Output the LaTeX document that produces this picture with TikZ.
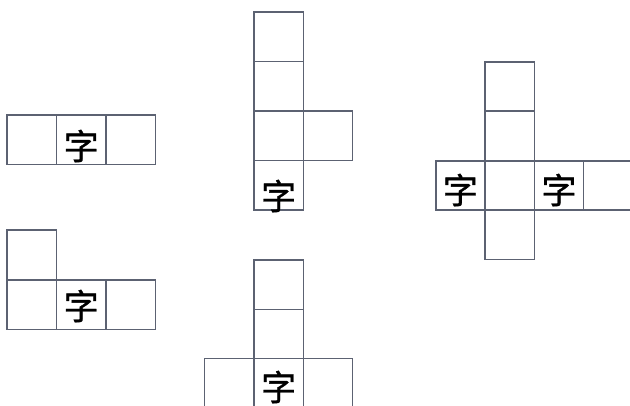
\documentclass[tikz,border=0pt]{standalone}
\usepackage{fontspec}
\newfontfamily\cjk[FakeBold=0.8]{Noto Sans CJK SC}
\definecolor{linegray}{RGB}{92,98,114}
\tikzset{
  cell/.style={draw=linegray, line width=1.1pt, minimum size=1.2325cm, inner sep=0pt, outer sep=0pt},
  zi/.style={font=\cjk\fontsize{25}{25}\selectfont, inner sep=0pt}
}
\begin{document}
\begin{tikzpicture}[x=0.025cm, y=-0.025cm]
    \useasboundingbox (0,0) rectangle (630,406);
    \clip (0,0) rectangle (630,406);

    % Row of three
    \foreach \x/\y [count=\i] in {31.7/139.7, 81.2/139.7, 130.7/139.7}
        \node[cell] (a\i) at (\x,\y) {};
    \node[zi] (za) at (81.2,146) {字};

    % L shape
    \foreach \x/\y [count=\i] in {31.7/254.7, 31.7/304.7, 81.2/304.7, 130.7/304.7}
        \node[cell] (b\i) at (\x,\y) {};
    \node[zi] (zb) at (81.2,306) {字};

    % Column with side cell
    \foreach \x/\y [count=\i] in {278.7/36.7, 278.7/86, 278.7/135.7, 278.7/185.2, 328/135.7}
        \node[cell] (c\i) at (\x,\y) {};
    \node[zi] (zc) at (278.7,196) {字};

    % Column on a row (cut at the bottom)
    \foreach \x/\y [count=\i] in {278.7/284.7, 278.7/334, 229.2/383.3, 278.7/383.3, 328/383.3}
        \node[cell] (d\i) at (\x,\y) {};
    \node[zi] (zd) at (278.7,387) {字};

    % Cross (cut at the right)
    \foreach \x/\y [count=\i] in {509.7/86.4, 509.7/135.7, 460.4/185.4, 509.7/185.4, 559/185.4, 608.3/185.4, 509.7/234.7}
        \node[cell] (e\i) at (\x,\y) {};
    \node[zi] (ze1) at (460.4,190) {字};
    \node[zi] (ze2) at (559,190) {字};
\end{tikzpicture}
\end{document}
